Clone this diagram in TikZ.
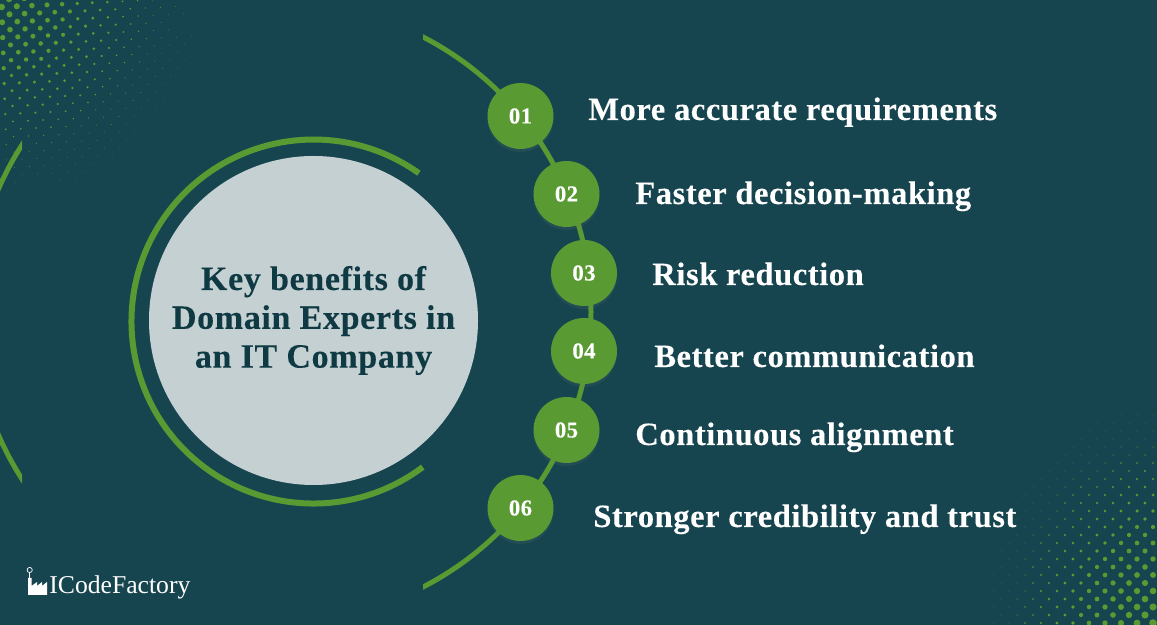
\documentclass[tikz,border=0pt]{standalone}
\usepackage{fontspec}
\setmainfont{Liberation Serif}[LetterSpace=1.8,BoldFeatures={FakeBold=0.15}]
\newfontfamily\brandfont{Liberation Serif}
\usetikzlibrary{positioning,calc,shadows}
\definecolor{bgteal}{HTML}{17454F}
\definecolor{leafgreen}{HTML}{5A9A32}
\definecolor{paleround}{HTML}{C5D0D2}
\definecolor{darktext}{HTML}{0F3A44}
\newlength{\unit}
\setlength{\unit}{0.02cm}
\tikzset{
	stepdot/.style={circle,fill=leafgreen,draw=none,minimum size=66\unit,inner sep=0pt,
		font=\bfseries\fontsize{13}{14}\selectfont,text=white,
		drop shadow={shadow xshift=0pt,shadow yshift=-3\unit,opacity=0.12}},
	benefit/.style={anchor=base west,inner sep=0pt,text=white,font=\bfseries\fontsize{18.5}{20}\selectfont},
}
\begin{document}
\begin{tikzpicture}[x=0.02cm,y=0.02cm]
	\useasboundingbox (0,0) rectangle (1157,625);
	\fill [bgteal] (0,0) rectangle (1157,625);
	% halftone corners
	\foreach \i in {0,...,30}{
		\foreach \j in {-30,...,30}{
			\pgfmathsetmacro{\px}{9+\i*7.8+\j*7.3}
			\pgfmathsetmacro{\py}{-1+\i*7.3-\j*8.0}
			\pgfmathsetmacro{\dd}{veclen(\px,\py)}
			\ifdim\dd pt<205pt
				\ifdim\px pt>-3pt
					\ifdim\py pt>-3pt
						\pgfmathsetmacro{\rr}{max(0.5,3.4*(1-\dd/180))}
						\pgfmathsetmacro{\op}{min(1,(205-\dd)/60+0.15)}
						\fill [leafgreen,opacity=\op] (\px,625-\py) circle (\rr);
					\fi
				\fi
			\fi
		}
	}
	\foreach \i in {0,...,22}{
		\foreach \j in {0,...,30}{
			\pgfmathtruncatemacro{\oddrow}{mod(\i+\j,2)}
			\ifnum\oddrow=0
				\pgfmathsetmacro{\dd}{veclen(\i*8+4,(\j*8+2)*0.78)}
				\ifdim\dd pt<175pt
					\pgfmathsetmacro{\rr}{max(0.5,3.9*(1-\dd/165))}
					\pgfmathsetmacro{\op}{min(1,(175-\dd)/40+0.25)}
					\fill [leafgreen,opacity=\op] (1153-\i*8,2+\j*8) circle (\rr);
				\fi
			\fi
		}
	}
	% big arc, cut at both sides
	\begin{scope}
		\clip (423,0) rectangle (700,625);
		\draw [leafgreen,line width=5\unit] (282,313) circle (309);
	\end{scope}
	\begin{scope}
		\clip (0,0) rectangle (22,625);
		\draw [leafgreen,line width=5\unit] (282,313) circle (309);
	\end{scope}
	% ring and middle
	\draw [leafgreen,line width=6\unit] (418.9,451.8) arc (54.6:306.9:182);
	\node [circle,fill=paleround,minimum size=329\unit,inner sep=0pt,align=center,text=darktext,
		font=\bfseries\fontsize{19.4}{22.1}\selectfont] (middle) at (313.5,304.5)
		{Key benefits of\\Domain Experts in\\an IT Company};
	% numbers
	\node [stepdot] (n01) at (520.5,509) {01};
	\node [stepdot] (n02) at (566.5,431) {02};
	\node [stepdot] (n03) at (584,352) {03};
	\node [stepdot] (n04) at (584,274) {04};
	\node [stepdot] (n05) at (566.5,195) {05};
	\node [stepdot] (n06) at (520.5,117) {06};
	% labels
	\node [benefit] (t01) at (588,505) {More accurate requirements};
	\node [benefit] (t02) at (635,421) {Faster decision-making};
	\node [benefit] (t03) at (652,340) {Risk reduction};
	\node [benefit] (t04) at (654,258) {Better communication};
	\node [benefit] (t05) at (635,180) {Continuous alignment};
	\node [benefit] (t06) at (593,98) {Stronger credibility and trust};
	% logo
	\fill [white] (28,30) -- (28,47) -- (31.5,47) -- (31.5,39) -- (37,43) -- (37,39) -- (42,43) -- (42,39) -- (47,43) -- (47,30) -- cycle;
	\draw [white,line width=0.7\unit] (29.7,47) -- (29.7,52.5);
	\draw [white,line width=0.7\unit] (29.7,55) circle (2.6);
	\node [anchor=base west,inner sep=0pt,text=white,font=\brandfont\fontsize{14.6}{15}\selectfont] (brand) at (49,31) {ICodeFactory};
\end{tikzpicture}
\end{document}
